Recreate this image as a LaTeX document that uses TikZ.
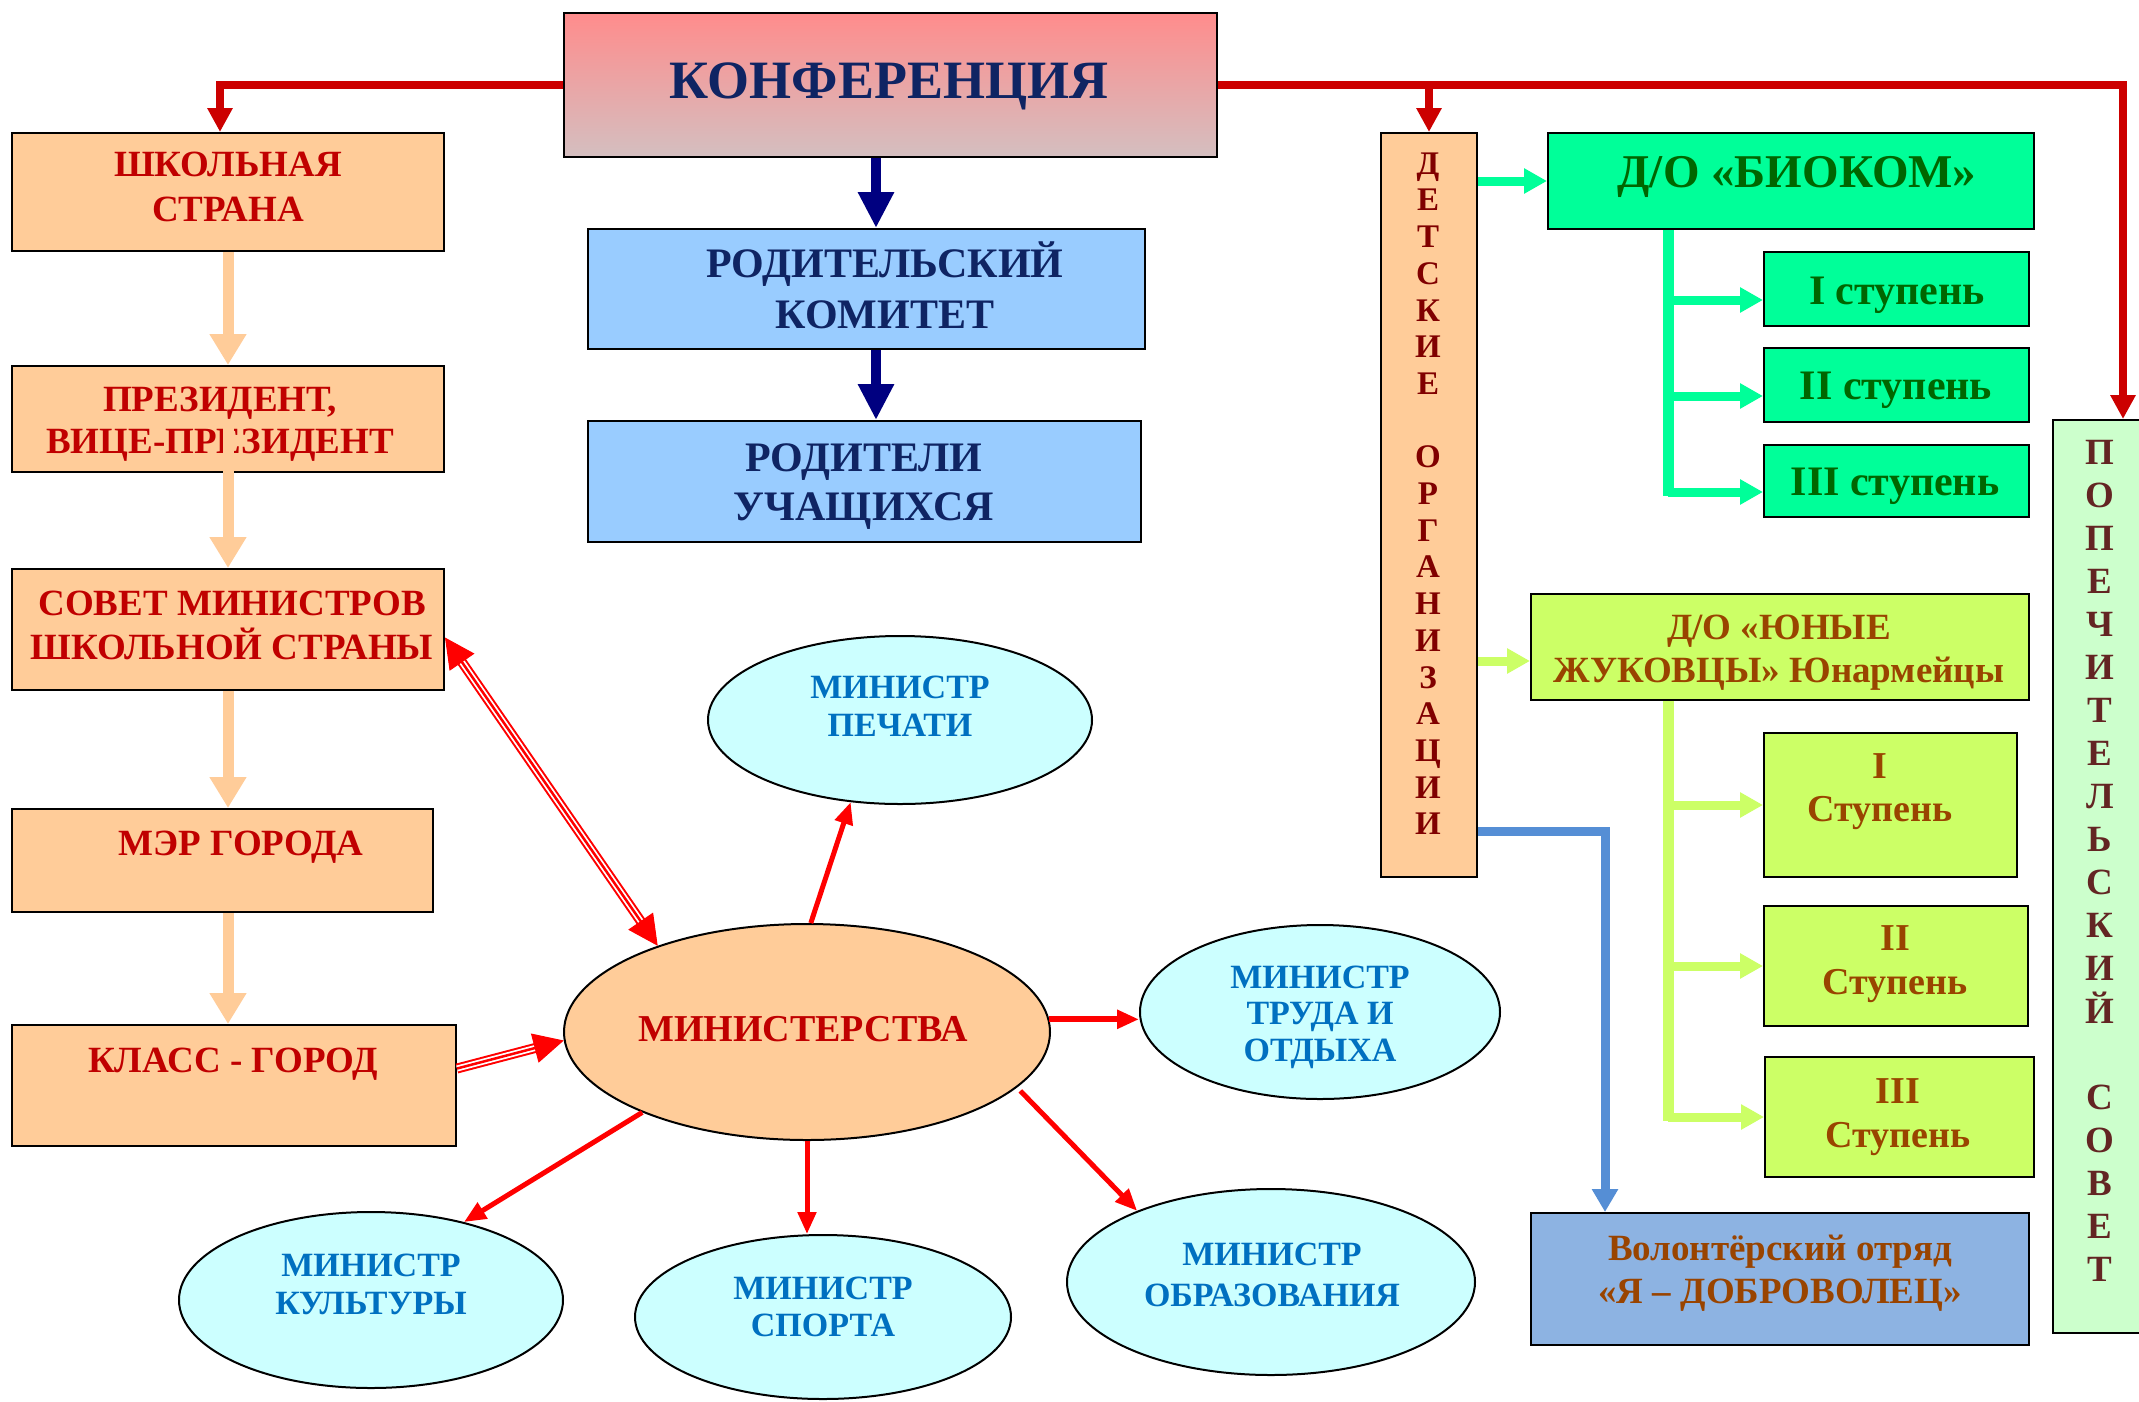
\documentclass[tikz,border=0pt]{standalone}
\usepackage{fontspec}
\setmainfont{Liberation Serif}
\usetikzlibrary{arrows.meta,shapes.geometric,calc}
\definecolor{peach}{HTML}{FFCC99}
\definecolor{lblue}{HTML}{99CCFF}
\definecolor{lcyan}{HTML}{CCFFFF}
\definecolor{sgreen}{HTML}{00FF99}
\definecolor{ygreen}{HTML}{CCFF66}
\definecolor{vblue}{HTML}{8DB3E2}
\definecolor{pgreen}{HTML}{CCFFCC}
\definecolor{dred}{HTML}{C00000}
\definecolor{cred}{HTML}{CC0000}
\definecolor{navyt}{HTML}{0F2463}
\definecolor{navya}{HTML}{000080}
\definecolor{mblue}{HTML}{0070C0}
\definecolor{dgreen}{HTML}{006600}
\definecolor{brownt}{HTML}{994400}
\definecolor{maroont}{HTML}{800000}
\definecolor{popt}{HTML}{632523}
\definecolor{blueln}{HTML}{558ED5}
\definecolor{konftop}{HTML}{FF8C8C}
\definecolor{konfbot}{HTML}{D4BFC0}
\newcommand\myst{\rule{0pt}{1em}}
\newcommand\fsz[2]{\fontsize{#1}{#2}\selectfont}
\newcommand\tripl[4]{%
  \draw[red, line width=10pt, shorten <=#3, shorten >=#4] (#1) -- (#2);
  \draw[white, line width=6pt, shorten <=#3, shorten >=#4] (#1) -- (#2);
  \draw[red, line width=2.5pt, shorten <=#3, shorten >=#4] (#1) -- (#2);}
\begin{document}
\begin{tikzpicture}[x=1pt,y=-1pt,
  box/.style={draw=black, line width=2pt, inner sep=0pt, anchor=north west},
  oval/.style={ellipse, draw=black, line width=2pt, inner sep=0pt, fill=lcyan},
  txt/.style={inner sep=0pt, align=center, anchor=north},
  redthick/.style={draw=cred, line width=8pt, -{Triangle[length=24pt,width=24pt]}},
  navyarr/.style={draw=navya, line width=10pt, -{Triangle[length=36pt,width=34pt]}},
  peacharr/.style={draw=peach, line width=11pt, -{Triangle[length=31pt,width=35pt]}},
  grnarr/.style={draw=sgreen, line width=9pt, -{Triangle[length=23pt,width=24pt]}},
  grnln/.style={draw=sgreen, line width=11pt},
  ylwarr/.style={draw=ygreen, line width=9pt, -{Triangle[length=23pt,width=24pt]}},
  ylwln/.style={draw=ygreen, line width=11pt},
  bluearr/.style={draw=blueln, line width=9pt, -{Triangle[length=23pt,width=25pt]}},
  minarr/.style={draw=red, line width=5pt, -{Triangle[length=22pt,width=18pt]}},
  tiphead/.style={draw=red, line width=1pt, {Triangle[length=30pt,width=30pt]}-{Triangle[length=30pt,width=30pt]}},
  tiphead1/.style={draw=red, line width=1pt, -{Triangle[length=30pt,width=30pt]}}
]
\useasboundingbox (0,0) rectangle (2139,1401);
\fill[white] (0,0) rectangle (2139,1401);

% ---- boxes
\node[box, top color=konftop, bottom color=konfbot, minimum width=653pt, minimum height=144pt] (konf) at (563,12) {};
\node[box, fill=peach, minimum width=432pt, minimum height=118pt] (shk) at (11,132) {};
\node[box, fill=peach, minimum width=432pt, minimum height=106pt] (pres) at (11,365) {};
\node[box, fill=peach, minimum width=432pt, minimum height=121pt] (sov) at (11,568) {};
\node[box, fill=peach, minimum width=421pt, minimum height=103pt] (mer) at (11,808) {};
\node[box, fill=peach, minimum width=444pt, minimum height=121pt] (klass) at (11,1024) {};
\node[box, fill=lblue, minimum width=557pt, minimum height=120pt] (rk) at (587,228) {};
\node[box, fill=lblue, minimum width=553pt, minimum height=121pt] (ru) at (587,420) {};
\node[box, fill=peach, minimum width=96pt, minimum height=744pt] (det) at (1380,132) {};
\node[box, fill=sgreen, minimum width=486pt, minimum height=96pt] (biok) at (1547,132) {};
\node[box, fill=sgreen, minimum width=265pt, minimum height=74pt] (st1) at (1763,251) {};
\node[box, fill=sgreen, minimum width=265pt, minimum height=74pt] (st2) at (1763,347) {};
\node[box, fill=sgreen, minimum width=265pt, minimum height=72pt] (st3) at (1763,444) {};
\node[box, fill=ygreen, minimum width=498pt, minimum height=106pt] (zhuk) at (1530,593) {};
\node[box, fill=ygreen, minimum width=253pt, minimum height=144pt] (zs1) at (1763,732) {};
\node[box, fill=ygreen, minimum width=264pt, minimum height=120pt] (zs2) at (1763,905) {};
\node[box, fill=ygreen, minimum width=269pt, minimum height=120pt] (zs3) at (1764,1056) {};
\node[box, fill=vblue, minimum width=498pt, minimum height=132pt] (vol) at (1530,1212) {};
\node[box, fill=pgreen, minimum width=93pt, minimum height=913pt] (pop) at (2052,419) {};

% ---- ellipses
\node[oval, fill=peach, minimum width=486pt, minimum height=216pt] (min) at (807,1032) {};
\node[oval, minimum width=384pt, minimum height=168pt] (pech) at (900,720) {};
\node[oval, minimum width=360pt, minimum height=174pt] (trud) at (1320,1012) {};
\node[oval, minimum width=384pt, minimum height=176pt] (kult) at (371,1300) {};
\node[oval, minimum width=376pt, minimum height=164pt] (sport) at (823,1317) {};
\node[oval, minimum width=408pt, minimum height=186pt] (obr) at (1271,1282) {};

% ---- texts
\node[txt, font=\bfseries\fsz{54}{60}, text=navyt] (konfT) at (889,44) {\myst КОНФЕРЕНЦИЯ};
\node[txt, font=\bfseries\fsz{37}{45}, text=dred] (shkT) at (228,139) {\myst ШКОЛЬНАЯ\\СТРАНА};
\node[txt, font=\bfseries\fsz{37}{42}, text=dred] (presT) at (220,374) {\myst ПРЕЗИДЕНТ,\\ВИЦЕ-ПРЕЗИДЕНТ};
\node[txt, font=\bfseries\fsz{37}{44}, text=dred] (sovT) at (232,578) {\myst СОВЕТ МИНИСТРОВ\\ШКОЛЬНОЙ СТРАНЫ};
\node[txt, font=\bfseries\fsz{37}{44}, text=dred] (merT) at (241,818) {\myst МЭР ГОРОДА};
\node[txt, font=\bfseries\fsz{37}{44}, text=dred] (klassT) at (233,1035) {\myst КЛАСС - ГОРОД};
\node[txt, font=\bfseries\fsz{42}{51}, text=navyt] (rkT) at (885,235) {\myst РОДИТЕЛЬСКИЙ\\КОМИТЕТ};
\node[txt, font=\bfseries\fsz{42}{49}, text=navyt] (ruT) at (864,429) {\myst РОДИТЕЛИ\\УЧАЩИХСЯ};
\node[txt, font=\bfseries\fsz{38}{44}, text=dred] (minT) at (803,1003) {\myst МИНИСТЕРСТВА};
\node[txt, font=\bfseries\fsz{34}{38}, text=mblue] (pechT) at (900,664) {\myst МИНИСТР\\ПЕЧАТИ};
\node[txt, font=\bfseries\fsz{34}{36.5}, text=mblue] (trudT) at (1320,954) {\myst МИНИСТР\\ТРУДА И\\ОТДЫХА};
\node[txt, font=\bfseries\fsz{34}{38}, text=mblue] (kultT) at (371,1242) {\myst МИНИСТР\\КУЛЬТУРЫ};
\node[txt, font=\bfseries\fsz{34}{37}, text=mblue] (sportT) at (823,1265) {\myst МИНИСТР\\СПОРТА};
\node[txt, font=\bfseries\fsz{34}{41}, text=mblue] (obrT) at (1272,1231) {\myst МИНИСТР\\ОБРАЗОВАНИЯ};
\node[txt, font=\bfseries\fsz{47}{52}, text=dgreen] (biokT) at (1797,140) {\myst Д/О «БИОКОМ»};
\node[txt, font=\bfseries\fsz{42}{48}, text=dgreen] (st1T) at (1897,262) {\myst I ступень};
\node[txt, font=\bfseries\fsz{42}{48}, text=dgreen] (st2T) at (1896,357.5) {\myst II ступень};
\node[txt, font=\bfseries\fsz{42}{48}, text=dgreen] (st3T) at (1895,453) {\myst III ступень};
\node[txt, font=\bfseries\fsz{37}{43}, text=brownt] (zhukT) at (1779,602) {\myst Д/О «ЮНЫЕ\\ЖУКОВЦЫ» Юнармейцы};
\node[txt, font=\bfseries\fsz{38}{43}, text=brownt] (zs1T) at (1880,740) {\myst I\\Ступень};
\node[txt, font=\bfseries\fsz{38}{44}, text=brownt] (zs2T) at (1895,912) {\myst II\\Ступень};
\node[txt, font=\bfseries\fsz{38}{44}, text=brownt] (zs3T) at (1898,1065) {\myst III\\Ступень};
\node[txt, font=\bfseries\fsz{37}{43}, text=brownt] (volT) at (1780,1223) {\myst Волонтёрский отряд\\«Я – ДОБРОВОЛЕЦ»};
\node[txt, font=\bfseries\fsz{33}{36.7}, text=maroont] (detT) at (1428,141)
  {\myst Д\\Е\\Т\\С\\К\\И\\Е\\~\\О\\Р\\Г\\А\\Н\\И\\З\\А\\Ц\\И\\И};
\node[txt, font=\bfseries\fsz{37}{43}, text=popt] (popT) at (2100,427)
  {\myst П\\О\\П\\Е\\Ч\\И\\Т\\Е\\Л\\Ь\\С\\К\\И\\Й\\~\\С\\О\\В\\Е\\Т};

% ---- red connectors from the conference
\draw[redthick] (konf.west) -| ([xshift=-8pt]shk.north);
\draw[redthick] (konf.east) -| ([xshift=71pt]pop.north west);
\draw[redthick] (det.north |- konf.east) -- (det.north);

% ---- navy arrows
\draw[navyarr] ([xshift=-14.5pt]konf.south) -- ([xshift=9.5pt]rk.north);
\draw[navyarr] ([xshift=9.5pt]rk.south) -- ([xshift=11.5pt]ru.north);

% ---- peach arrows
\draw[peacharr] (shk.south) -- (pres.north);
\draw[peacharr] ([yshift=-55pt]pres.north) -- (sov.north);
\draw[peacharr] (sov.south) -- (sov.south |- mer.north);
\draw[peacharr] ([xshift=5.5pt]mer.south) -- ([xshift=5.5pt]mer.south |- klass.north);

% ---- green (БИОКОМ) tree
\draw[grnarr] (det.east |- biok.west) -- (biok.west);
\coordinate (gt) at ([xshift=121pt]biok.south west);
\coordinate (b1) at ([yshift=-11pt]st1.west);
\coordinate (b2) at ([yshift=-11pt]st2.west);
\coordinate (b3) at ([yshift=-11pt]st3.west);
\draw[grnln] (gt) -- ([yshift=-4pt]gt |- b3);
\draw[grnarr] (gt |- b1) -- (b1);
\draw[grnarr] (gt |- b2) -- (b2);
\draw[grnarr] (gt |- b3) -- (b3);

% ---- yellow-green (ЖУКОВЦЫ) tree
\coordinate (zj) at ([yshift=-14pt]zhuk.west);
\draw[ylwarr] (det.east |- zj) -- (zj);
\coordinate (yt) at ([xshift=138pt]zhuk.south west);
\draw[ylwln] (yt) -- ([yshift=-4pt]yt |- zs3.west);
\draw[ylwarr] (yt |- zs1.west) -- (zs1.west);
\draw[ylwarr] (yt |- zs2.west) -- (zs2.west);
\draw[ylwarr] (yt |- zs3.west) -- (zs3.west);

% ---- blue to volunteers
\draw[bluearr] ([yshift=-326pt]det.east) -| ([xshift=75pt]vol.north west);

% ---- ministries
\draw[minarr] (min.88) -- (pech.239);
\draw[minarr, line width=6pt] (min.3) -- (min.3 -| trud.west);
\draw[minarr] ([xshift=8pt]min.344) -- (obr.152);
\draw[minarr] (min.south) -- (min.south |- sport.north);
\draw[minarr] (min.206) -- (kult.40);

% ---- triple-line arrows
\coordinate (sv) at ([yshift=-8pt]sov.east);
\coordinate (m1) at (min.150);
\tripl{sv}{m1}{26pt}{26pt}
\draw[tiphead] (sv) -- (m1);
\coordinate (kl) at ([yshift=17pt]klass.east);
\coordinate (m2) at (min.182);
\tripl{kl}{m2}{0pt}{26pt}
\draw[tiphead1] (kl) -- (m2);
\end{tikzpicture}
\end{document}
